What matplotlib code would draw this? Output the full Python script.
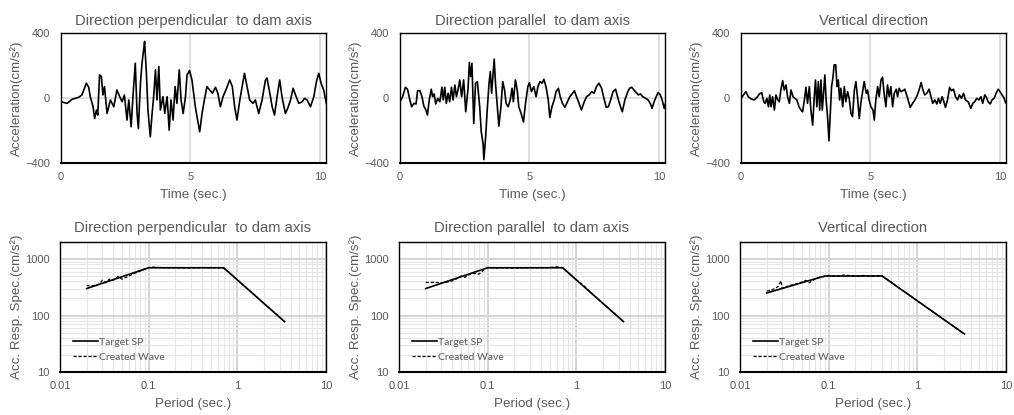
import matplotlib
matplotlib.use('Agg')
import matplotlib.pyplot as plt
from matplotlib.ticker import FixedLocator, NullFormatter

GRIS = '#595959'

titulos = ['Direction perpendicular  to dam axis',
           'Direction parallel  to dam axis',
           'Vertical direction']

# Ondas de aceleracion (tiempo en s, aceleracion en cm/s2)
t_perp = [0.00, 0.23, 0.43, 0.55, 0.68, 0.81, 0.98, 1.07, 1.13, 1.24,
          1.30, 1.37, 1.42, 1.49, 1.56, 1.62, 1.68, 1.78, 1.91, 2.04,
          2.16, 2.27, 2.36, 2.45, 2.55, 2.62, 2.71, 2.78, 2.87, 2.94,
          2.99, 3.07, 3.13, 3.20, 3.23, 3.30, 3.36, 3.45, 3.52, 3.58,
          3.65, 3.71, 3.78, 3.84, 3.94, 4.01, 4.10, 4.18, 4.25, 4.33,
          4.41, 4.48, 4.57, 4.64, 4.72, 4.81, 4.87, 4.97, 5.06, 5.19,
          5.28, 5.36, 5.45, 5.54, 5.64, 5.75, 5.85, 5.97, 6.06, 6.16,
          6.26, 6.37, 6.52, 6.62, 6.71, 6.80, 6.91, 7.00, 7.09, 7.19,
          7.29, 7.42, 7.51, 7.64, 7.77, 7.90, 7.96, 8.07, 8.16, 8.25,
          8.35, 8.45, 8.54, 8.67, 8.76, 8.87, 8.97, 9.06, 9.19, 9.32,
          9.41, 9.51, 9.64, 9.77, 9.87, 9.96, 10.05, 10.15, 10.26]
a_perp = [-23, -33, -8, -2, 4, 19, 91, 66, 8, -54,
          -126, -74, -105, 142, 132, 19, 70, -95, -12, -54,
          49, 8, -23, 19, -136, -12, -177, 8, 214, -95,
          -188, 91, 214, 307, 348, 152, -74, -239, -95, 8,
          173, -12, 194, -74, 8, -95, 8, -198, -12, -136,
          70, -33, 173, -12, -95, 8, 142, 169, 111, -54,
          -136, -208, -95, -12, 70, 49, 29, 66, 29, -54,
          8, 49, 111, 70, -54, -136, -12, 70, 152, 70,
          -12, -33, -12, -95, -12, 111, 122, 29, -54, -105,
          8, 111, 8, -95, -64, -12, 60, 19, -33, -23,
          -2, -12, -54, 8, 101, 152, 91, 49, -37]

t_par = [0.00, 0.10, 0.21, 0.29, 0.38, 0.45, 0.54, 0.62, 0.68, 0.77,
         0.85, 0.92, 1.00, 1.06, 1.13, 1.21, 1.26, 1.32, 1.38, 1.46,
         1.54, 1.62, 1.67, 1.73, 1.79, 1.86, 1.92, 1.99, 2.05, 2.12,
         2.18, 2.24, 2.31, 2.38, 2.46, 2.54, 2.63, 2.68, 2.73, 2.78,
         2.85, 2.92, 2.99, 3.08, 3.14, 3.21, 3.24, 3.31, 3.37, 3.44,
         3.49, 3.54, 3.59, 3.64, 3.69, 3.76, 3.82, 3.90, 3.97, 4.04,
         4.10, 4.18, 4.26, 4.33, 4.38, 4.46, 4.53, 4.59, 4.68, 4.77,
         4.85, 4.94, 5.00, 5.08, 5.17, 5.26, 5.33, 5.41, 5.49, 5.56,
         5.64, 5.73, 5.79, 5.87, 5.96, 6.03, 6.12, 6.19, 6.28, 6.37,
         6.47, 6.56, 6.67, 6.74, 6.82, 6.92, 7.01, 7.12, 7.21, 7.31,
         7.41, 7.50, 7.59, 7.69, 7.79, 7.88, 7.97, 8.05, 8.14, 8.23,
         8.33, 8.44, 8.53, 8.59, 8.69, 8.79, 8.87, 8.95, 9.04, 9.13,
         9.21, 9.29, 9.38, 9.49, 9.59, 9.68, 9.74, 9.82, 9.90, 9.97,
         10.06, 10.13, 10.21, 10.26]
a_par = [-23, 8, 66, 54, -12, -54, -33, -37, 45, 45,
         8, -49, -74, -105, -12, 54, 8, 25, -37, -2,
         -23, 66, -12, 66, -33, 29, -23, 66, -12, 80,
         8, 49, 111, 8, 111, -85, 60, 219, 132, 214,
         -157, 91, 101, -54, -208, -280, -379, -239, -74, 91,
         163, 29, 132, 239, 91, -54, -173, -54, 101, 49,
         -33, -54, -12, 60, -23, 111, 49, -54, -95, -148,
         -33, 70, 95, 39, 70, 8, 70, 101, 91, 115,
         70, -12, -120, -54, -12, 39, 60, 8, -33, -58,
         -23, 8, 29, 45, 8, -33, -74, -23, 8, 19,
         39, 29, 70, 91, 60, -2, -58, -54, -12, 39,
         54, -12, -58, -85, -12, 33, 60, 66, 49, 33,
         19, 25, 8, -2, -12, -37, -64, -23, 8, 33,
         19, -12, -64, -33]

t_vert = [0.00, 0.10, 0.19, 0.28, 0.39, 0.51, 0.62, 0.71, 0.80, 0.88,
          0.93, 1.00, 1.06, 1.11, 1.16, 1.22, 1.29, 1.35, 1.42, 1.48,
          1.54, 1.61, 1.67, 1.74, 1.80, 1.87, 1.93, 2.01, 2.08, 2.16,
          2.24, 2.32, 2.38, 2.45, 2.51, 2.57, 2.64, 2.70, 2.77, 2.83,
          2.88, 2.93, 2.99, 3.04, 3.09, 3.14, 3.19, 3.24, 3.29, 3.35,
          3.40, 3.45, 3.50, 3.55, 3.60, 3.66, 3.71, 3.76, 3.81, 3.86,
          3.93, 3.99, 4.05, 4.12, 4.18, 4.25, 4.31, 4.38, 4.44, 4.50,
          4.57, 4.63, 4.70, 4.76, 4.84, 4.89, 4.95, 5.02, 5.10, 5.15,
          5.21, 5.28, 5.34, 5.41, 5.47, 5.53, 5.60, 5.66, 5.73, 5.79,
          5.86, 5.92, 6.00, 6.05, 6.11, 6.18, 6.25, 6.33, 6.44, 6.54,
          6.63, 6.72, 6.80, 6.89, 6.96, 7.03, 7.10, 7.18, 7.27, 7.34,
          7.41, 7.49, 7.57, 7.63, 7.70, 7.77, 7.82, 7.90, 7.98, 8.06,
          8.13, 8.21, 8.29, 8.37, 8.44, 8.52, 8.60, 8.67, 8.78, 8.88,
          8.96, 9.03, 9.11, 9.19, 9.27, 9.34, 9.42, 9.47, 9.55, 9.63,
          9.70, 9.78, 9.86, 9.94, 10.01, 10.09, 10.17, 10.22]
a_vert = [-2, 19, 39, 8, -6, -12, 4, 25, 33, -23,
          -33, -2, -54, 19, -54, 8, -74, 19, -12, -23,
          49, 107, 49, 80, 8, -33, 49, 8, -2, -12,
          -54, -74, -85, -12, 66, -33, 70, -74, -167, 8,
          111, -54, 101, -74, 111, -74, 29, 142, -12, -126,
          -264, -95, 70, 122, 204, 204, 70, 111, -12, 60,
          -54, 70, -23, 39, -2, -95, -115, 49, 101, 8,
          -126, -33, 39, 101, 29, 49, -12, -54, -74, -136,
          -12, 70, 8, 111, 128, 29, -54, 80, 8, 70,
          -54, 29, 54, 8, 60, 39, 45, 54, -2, -58,
          -33, -12, 12, 54, 95, 49, 19, 29, 54, 8,
          -33, -12, -37, -2, -33, 8, -12, -58, -12, 66,
          45, 54, 8, -12, 19, -2, 29, -12, -23, -64,
          -33, -23, -2, -12, 8, -33, 19, 8, -23, -37,
          -12, -2, 29, 54, 39, 19, -2, -29]

# Espectros de respuesta (periodo en s, aceleracion en cm/s2)
T_obj_perp = [0.02, 0.1, 0.7, 3.4]
S_obj_perp = [300, 700, 700, 78]
T_gen_perp = [0.02, 0.022, 0.025, 0.028, 0.03, 0.033, 0.036, 0.04, 0.045,
              0.05, 0.06, 0.07, 0.08, 0.09, 0.1, 0.11, 0.15, 0.2, 0.3,
              0.4, 0.5, 0.6, 0.7, 0.8, 1.0, 1.5, 2.0, 3.0, 3.4]
S_gen_perp = [340, 330, 345, 360, 420, 380, 440, 420, 490,
              440, 500, 560, 610, 660, 700, 720, 700, 700, 695,
              705, 700, 700, 690, 585, 428, 245, 163, 94, 78]

T_obj_par = [0.02, 0.1, 0.7, 3.4]
S_obj_par = [300, 700, 700, 78]
T_gen_par = [0.02, 0.025, 0.03, 0.035, 0.04, 0.045, 0.05, 0.055, 0.06,
             0.07, 0.08, 0.085, 0.09, 0.1, 0.12, 0.15, 0.2, 0.3, 0.4,
             0.5, 0.6, 0.7, 0.8, 1.0, 1.2, 1.5, 2.0, 3.0, 3.4]
S_gen_par = [385, 385, 380, 390, 410, 450, 500, 470, 520,
             560, 540, 590, 640, 700, 690, 700, 690, 700, 700,
             705, 730, 700, 585, 428, 345, 245, 163, 94, 78]

T_obj_vert = [0.02, 0.09, 0.4, 3.4]
S_obj_vert = [250, 500, 500, 47]
T_gen_vert = [0.02, 0.022, 0.025, 0.027, 0.029, 0.03, 0.033, 0.036, 0.04,
              0.045, 0.05, 0.055, 0.06, 0.07, 0.08, 0.09, 0.1, 0.12, 0.15,
              0.2, 0.25, 0.3, 0.35, 0.4, 0.5, 0.6, 0.8, 1.0, 1.5, 2.0,
              3.0, 3.4]
S_gen_vert = [270, 280, 300, 330, 410, 300, 320, 340, 350,
              370, 390, 420, 380, 440, 480, 490, 510, 490, 520,
              500, 510, 495, 505, 500, 400, 320, 235, 182, 116, 85,
              54, 47]


def Fn_onda(fig, pos, t, a, titulo):
    ax = fig.add_axes(pos)
    ax.plot(t, a, color='black', lw=1.2)
    ax.set_xlim(0, 10.24)
    ax.set_ylim(-400, 400)
    ax.set_xticks([0, 5, 10])
    ax.set_yticks([-400, 0, 400])
    ax.grid(True, color='#d9d9d9', lw=1.2)
    ax.set_axisbelow(True)
    ax.tick_params(length=0, labelsize=8, labelcolor=GRIS)
    ax.tick_params(axis='x', pad=6.5)
    ax.tick_params(axis='y', pad=8)
    for s in ax.spines.values():
        s.set_color('black')
        s.set_linewidth(1.0)
    ax.spines['bottom'].set_linewidth(1.5)
    ax.set_title(titulo, fontsize=10.6, color=GRIS, pad=6)
    ax.set_xlabel('Time (sec.)', fontsize=9.6, color=GRIS)
    ax.set_ylabel('Acceleration(cm/s²)', fontsize=9.6, color=GRIS)
    ax.xaxis.set_label_coords(0.5, -0.2)
    ax.yaxis.set_label_coords(-0.145, 0.5)
    return ax


def Fn_espectro(fig, pos, T_obj, S_obj, T_gen, S_gen, titulo):
    ax = fig.add_axes(pos)
    ax.set_xscale('log')
    ax.set_yscale('log')
    ax.plot(T_obj, S_obj, color='black', lw=1.2, label='Target SP')
    ax.plot(T_gen, S_gen, color='black', lw=0.9, ls=(0, (2.5, 1.5)),
            label='Created Wave')
    ax.set_xlim(0.01, 10)
    ax.set_ylim(10, 2000)
    ax.xaxis.set_major_locator(FixedLocator([0.01, 0.1, 1, 10]))
    ax.yaxis.set_major_locator(FixedLocator([10, 100, 1000]))
    ax.set_xticklabels(['0.01', '0.1', '1', '10'])
    ax.set_yticklabels(['10', '100', '1000'])
    menores_x = [m * d for d in [0.01, 0.1, 1] for m in range(2, 10)]
    menores_y = [m * d for d in [10, 100] for m in range(2, 10)] + [2000]
    ax.xaxis.set_minor_locator(FixedLocator(menores_x))
    ax.yaxis.set_minor_locator(FixedLocator(menores_y))
    ax.xaxis.set_minor_formatter(NullFormatter())
    ax.yaxis.set_minor_formatter(NullFormatter())
    ax.grid(True, which='major', color='#d4d4d4', lw=1.4)
    ax.grid(True, which='minor', color='#e6e6e6', lw=0.8)
    ax.set_axisbelow(True)
    ax.tick_params(which='both', length=0, labelsize=8, labelcolor=GRIS)
    ax.tick_params(axis='x', which='both', pad=6.5)
    ax.tick_params(axis='y', which='both', pad=7.5)
    for s in ax.spines.values():
        s.set_color('black')
        s.set_linewidth(1.0)
    ax.spines['bottom'].set_linewidth(1.5)
    ax.set_title(titulo, fontsize=10.6, color=GRIS, pad=7)
    ax.set_xlabel('Period (sec.)', fontsize=9.6, color=GRIS)
    ax.set_ylabel('Acc. Resp. Spec.(cm/s²)', fontsize=9.6, color=GRIS)
    ax.xaxis.set_label_coords(0.5, -0.2)
    ax.yaxis.set_label_coords(-0.14, 0.5)
    leg = ax.legend(loc='lower left', bbox_to_anchor=(0.02, 0.02), frameon=False,
                    prop={'family': 'Lato', 'size': 7.5}, handlelength=2.4,
                    handletextpad=0.15, labelspacing=0.55, borderaxespad=0.3)
    for txt in leg.get_texts():
        txt.set_color(GRIS)
    return ax


def Main():
    plt.rcParams['font.family'] = ['Liberation Sans', 'DejaVu Sans']
    fig = plt.figure(figsize=(10.14, 4.15), dpi=100)

    alto = 130 / 415
    arriba = 1 - 163 / 415
    abajo = 1 - 372 / 415
    ondas = [(t_perp, a_perp), (t_par, a_par), (t_vert, a_vert)]
    izq_arriba = [61, 400, 741]
    for i, (t, a) in enumerate(ondas):
        Fn_onda(fig, [izq_arriba[i] / 1014, arriba, 265 / 1014, alto], t, a, titulos[i])

    espectros = [(T_obj_perp, S_obj_perp, T_gen_perp, S_gen_perp),
                 (T_obj_par, S_obj_par, T_gen_par, S_gen_par),
                 (T_obj_vert, S_obj_vert, T_gen_vert, S_gen_vert)]
    izq_abajo = [60, 399, 740]
    for i, datos in enumerate(espectros):
        Fn_espectro(fig, [izq_abajo[i] / 1014, abajo, 266 / 1014, alto], *datos, titulos[i])

    fig.savefig('out.png', dpi=100)


if __name__ == '__main__':
    Main()
